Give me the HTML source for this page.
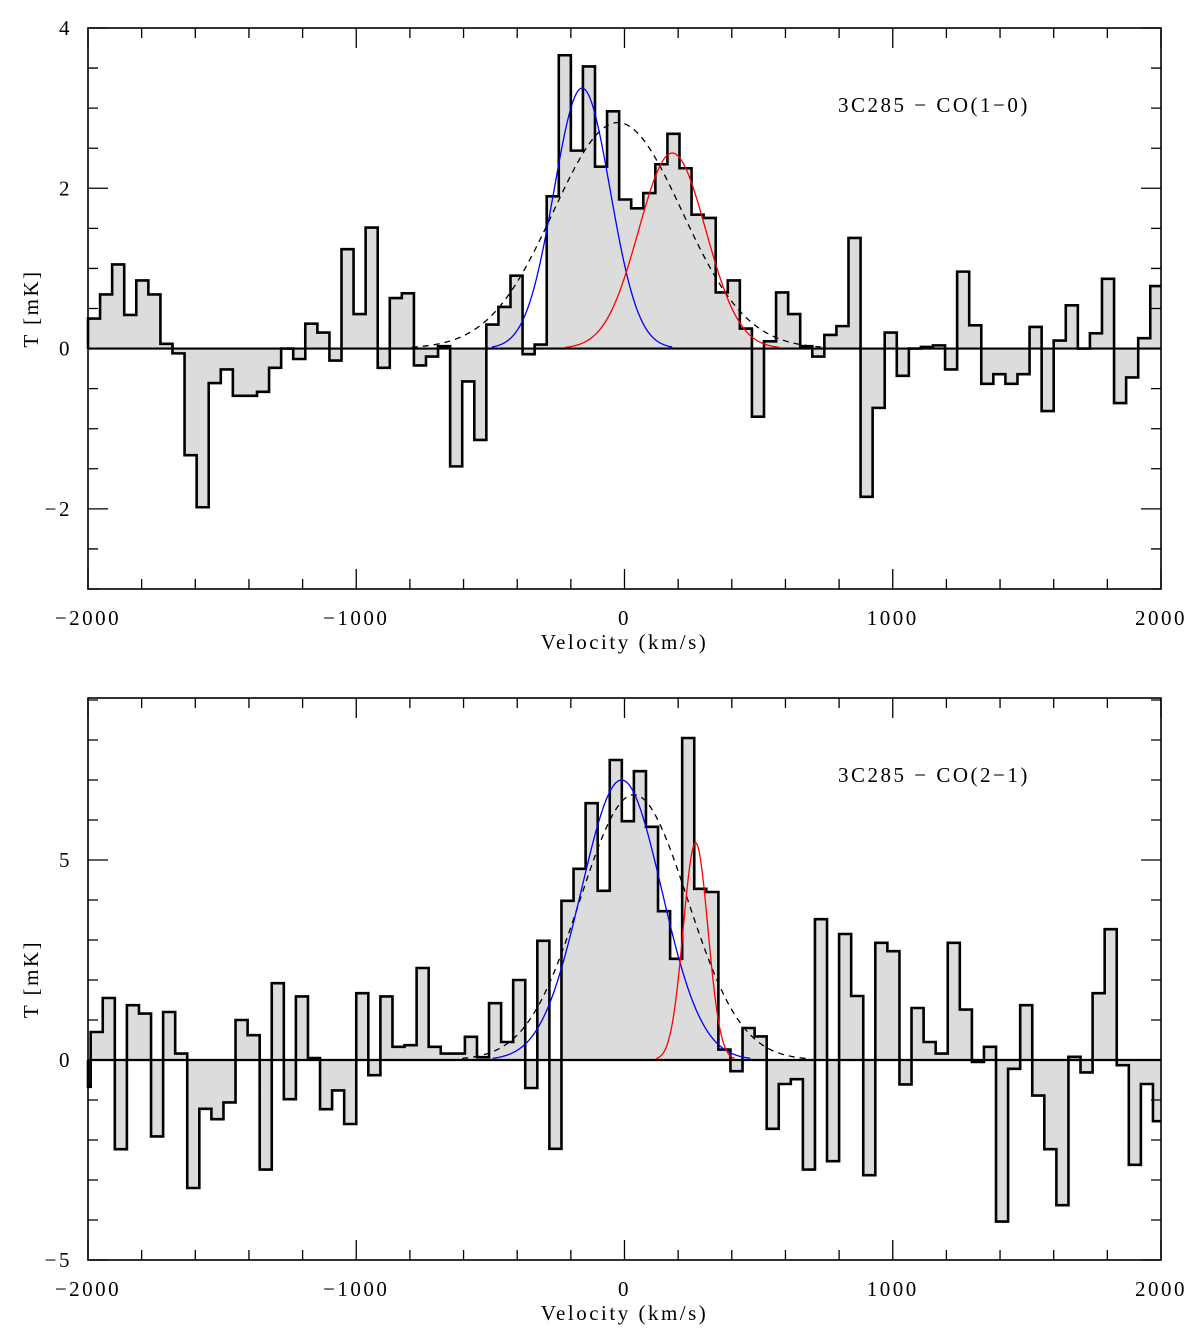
<!DOCTYPE html>
<html><head><meta charset="utf-8"><style>
body{margin:0;background:#fff}
svg text{font-family:"Liberation Serif",serif;font-size:21px;letter-spacing:2.5px;fill:#000}
</style></head><body>
<svg id="chart" width="1200" height="1339" xmlns="http://www.w3.org/2000/svg"></svg>
<script>
// ---- data ----
const topValues=[0.375,0.675,1.05,0.42,0.85,0.675,0.06,-0.06,-1.33,-1.98,-0.43,-0.26,-0.59,-0.59,-0.54,-0.24,0,-0.13,0.31,0.2,-0.15,1.24,0.43,1.51,-0.24,0.63,0.69,-0.21,-0.1,0.03,
-1.47,-0.41,-1.14,0.30,0.52,0.91,-0.07,0.05,1.9,3.66,2.47,3.52,2.27,2.96,1.86,1.75,1.94,2.3,2.68,2.25,1.67,1.63,0.7,0.85,0.25,-0.85,0.09,0.7,0.43,0.03,
-0.1,0.17,0.28,1.38,-1.85,-0.74,0.2,-0.34,0,0.02,0.04,-0.26,0.96,0.29,-0.44,-0.32,-0.44,-0.32,0.27,-0.78,0.1,0.54,0,0.19,0.87,-0.68,-0.36,0.13,0.78,0.35];
const botValues=[-0.67,0.7,1.55,-2.23,1.37,1.16,-1.91,1.2,0.16,-3.2,-1.22,-1.48,-1.06,1.0,0.62,-2.74,1.92,-0.98,1.59,0.05,-1.23,-0.76,-1.6,1.67,-0.38,1.59,0.33,0.37,2.3,0.33,0.16,0.16,
0.58,0.07,1.42,0.45,2.0,-0.7,2.98,-2.22,3.98,4.78,6.42,4.23,7.5,5.97,7.22,5.83,3.72,2.53,8.05,4.28,4.2,0.26,-0.28,0.8,0.59,-1.72,-0.6,-0.48,-2.74,
3.52,-2.53,3.15,1.6,-2.88,2.93,2.72,-0.61,1.3,0.45,0.16,2.93,1.26,-0.05,0.33,-4.04,-0.22,1.37,-0.89,-2.23,-3.63,0.08,-0.31,1.67,3.27,-0.13,-2.62,-0.6,-1.53];
const topStart=-2000, topStep=45;
const botStart=-2035, botStep=45;
const topGauss={blue:[-158,3.25,105],red:[178,2.44,125],dash:[-25,2.82,240]};
const botGauss={blue:[-11,7.0,150],red:[265,5.43,46],dash:[35,6.63,200]};
const NS="http://www.w3.org/2000/svg";
const svg=document.getElementById('chart');
function el(tag,attrs,parent){const e=document.createElementNS(NS,tag);for(const k in attrs)e.setAttribute(k,attrs[k]);(parent||svg).appendChild(e);return e;}

function panel(o){
  const g=el('g',{});
  
  
  const X=v=>o.x0+(v+2000)/4000*(o.x1-o.x0);
  const Y=v=>o.y1-(v-o.ymin)/(o.ymax-o.ymin)*(o.y1-o.y0);
  let d='M'+X(-2000)+','+Y(0);
  let last=-2000;
  o.vals.forEach((v,i)=>{let a=Math.max(-2000,o.start+i*o.step),b=Math.min(2000,o.start+(i+1)*o.step);if(b<=a)return;d+=' L'+X(a)+','+Y(v)+' L'+X(b)+','+Y(v);last=b;});
  const fill=el('path',{d:d+' L'+X(last)+','+Y(0)+' Z',fill:'#dcdcdc',stroke:'none'},g);
  
  
  el('line',{x1:o.x0,x2:o.x1,y1:Y(0),y2:Y(0),stroke:'#000','stroke-width':2.2},g);
  const h=el('path',{d:d,fill:'none',stroke:'#000','stroke-width':2.6,'stroke-linejoin':'miter'},g);
  
  
  const gs=[['dash','#000','6,5'],['blue','#0000ff',''],['red','#ff0000','']];
  gs.forEach(([k,c,da])=>{const [mu,A,sg]=o.gauss[k];let p='';for(let v=mu-3.2*sg;v<=mu+3.2*sg;v+=4){p+=(p?'L':'M')+X(v)+','+Y(A*Math.exp(-(v-mu)*(v-mu)/(2*sg*sg)))+' ';}
    const ln=el('path',{d:p,fill:'none',stroke:c,'stroke-width':1.3,'stroke-dasharray':da},g);
    
    });
  el('rect',{x:o.x0,y:o.y0,width:o.x1-o.x0,height:o.y1-o.y0,fill:'none',stroke:'#000','stroke-width':1.6},g);
  let t='';
  for(let v=-2000;v<=2000;v+=200){const L=v%1000===0?20:10;t+='M'+X(v)+','+o.y1+' v'+(-L)+' M'+X(v)+','+o.y0+' v'+L+' ';}
  for(let v=Math.ceil(o.ymin/o.minor)*o.minor;v<=o.ymax+1e-9;v+=o.minor){const maj=Math.abs(v/o.major-Math.round(v/o.major))<1e-6;const L=maj?20:10;t+='M'+o.x0+','+Y(v)+' h'+L+' M'+o.x1+','+Y(v)+' h'+(-L)+' ';}
  el('path',{d:t,stroke:'#000','stroke-width':1.3,fill:'none'},g);
  [-2000,-1000,0,1000,2000].forEach(v=>{const tx=el('text',{x:X(v),y:o.y1+36,'text-anchor':'middle'},g);tx.textContent=v<0?'\u2212'+(-v):v;
    
    });
  o.ylabels.forEach(v=>{const tx=el('text',{x:o.x0-16,y:Y(v)+7,'text-anchor':'end'},g);tx.textContent=v<0?'\u2212'+(-v):v;
    
    });
  const xt=el('text',{x:X(0),y:o.y1+60,'text-anchor':'middle'},g);xt.textContent='Velocity (km/s)';
  
  
  const yt=el('text',{x:0,y:0,'text-anchor':'middle',transform:'translate(38,'+(o.y0+o.y1)/2+') rotate(-90)'},g);yt.textContent='T [mK]';
  
  
  const lb=el('text',{x:838,y:o.y0+84},g);lb.textContent=o.label;
  
  
}
panel({name:'co10-panel',x0:88,x1:1161,y0:28,y1:589,ymin:-3,ymax:4,minor:0.5,major:2,ylabels:[-2,0,2,4],vals:topValues,start:topStart,step:topStep,gauss:topGauss,label:'3C285 \u2212 CO(1\u22120)'});
panel({name:'co21-panel',x0:88,x1:1161,y0:698,y1:1260,ymin:-5,ymax:9.05,minor:1,major:5,ylabels:[-5,0,5],vals:botValues,start:botStart,step:botStep,gauss:botGauss,label:'3C285 \u2212 CO(2\u22121)'});
</script>
</body></html>
